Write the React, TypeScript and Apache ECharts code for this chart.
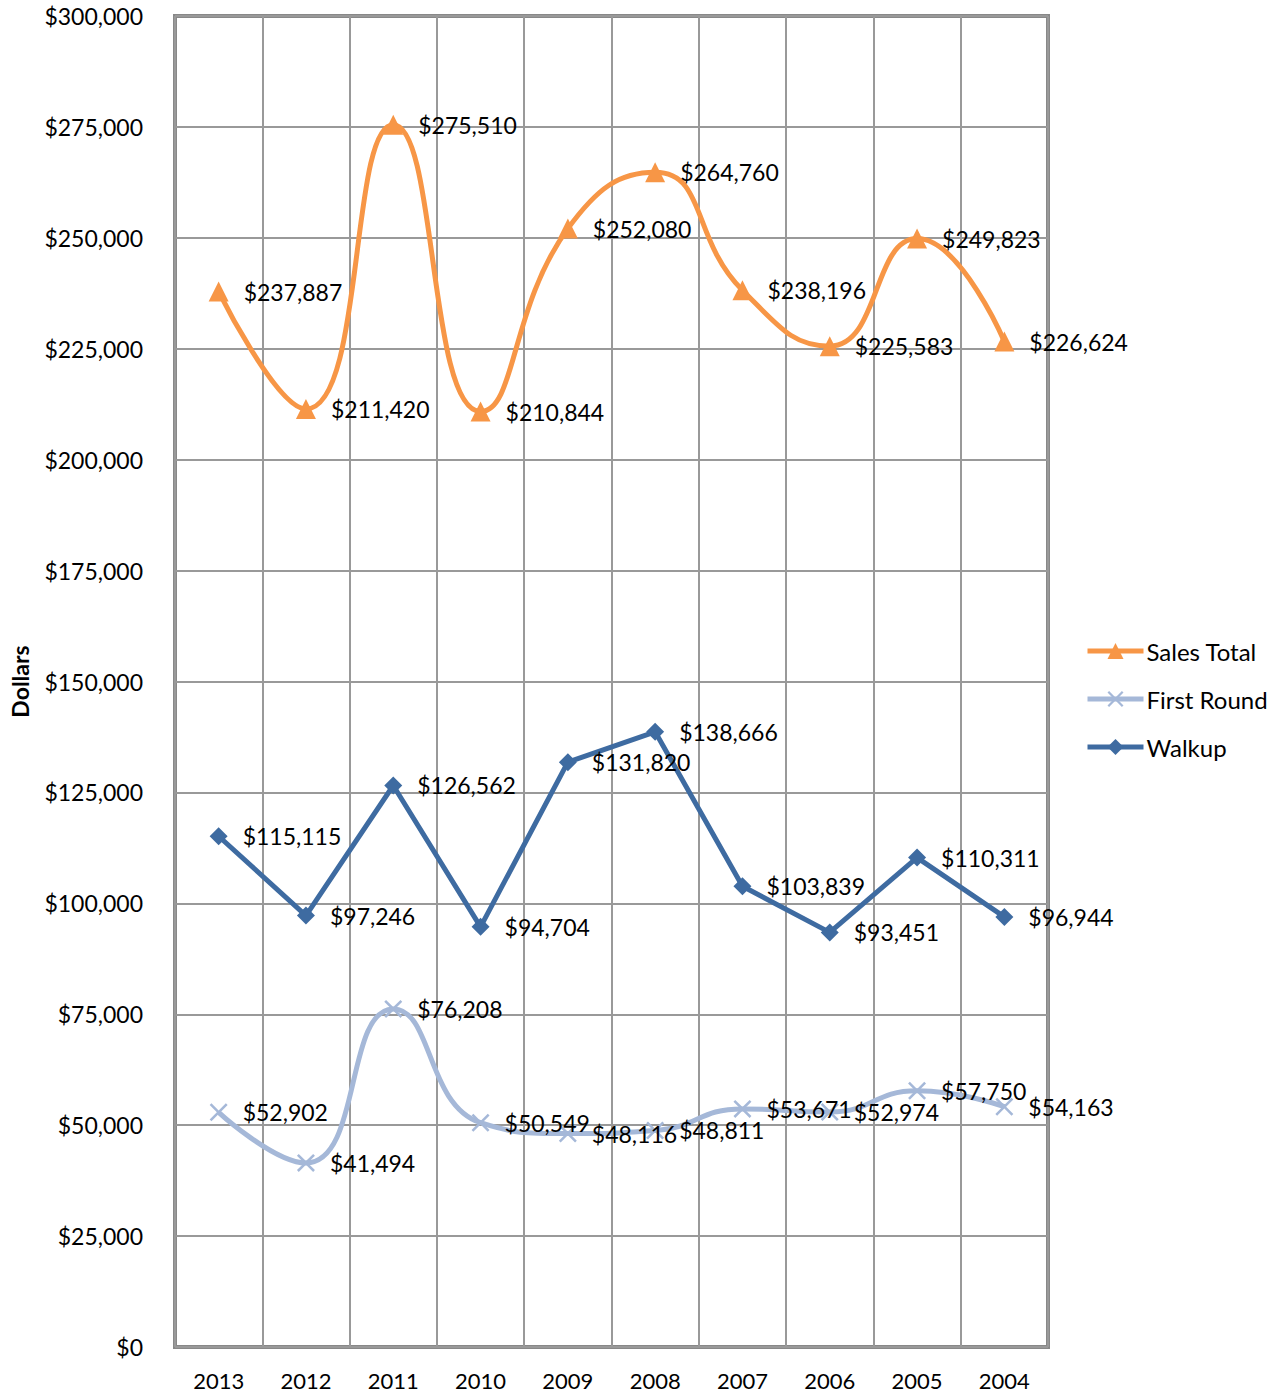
import React, { useEffect, useRef } from "react";
import * as echarts from "echarts";

const years = ["2013", "2012", "2011", "2010", "2009", "2008", "2007", "2006", "2005", "2004"];
const salesTotal = [237887, 211420, 275510, 210844, 252080, 264760, 238196, 225583, 249823, 226624];
const firstRound = [52902, 41494, 76208, 50549, 48116, 48811, 53671, 52974, 57750, 54163];
const walkup = [115115, 97246, 126562, 94704, 131820, 138666, 103839, 93451, 110311, 96944];

const FONT = "Lato, 'Liberation Sans', sans-serif";
const money = (v: number) => "$" + Math.round(v).toLocaleString("en-US");
const xSymbol = "path://M0,1L1,0L5,4L9,0L10,1L6,5L10,9L9,10L5,6L1,10L0,9L4,5Z";

export default function App() {
  const ref = useRef<HTMLDivElement>(null);
  useEffect(() => {
    if (!ref.current) return;
    const chart = echarts.init(ref.current, null, { renderer: "svg" });
    const label = {
      show: true,
      position: "right" as const,
      distance: 15,
      color: "#000",
      fontSize: 23,
      fontFamily: FONT,
      formatter: (p: any) => money(p.value),
    };
    chart.setOption({
      animation: false,
      backgroundColor: "#fff",
      textStyle: { fontFamily: FONT },
      grid: {
        left: 175,
        top: 16,
        width: 873,
        height: 1331,
        outerBoundsMode: "none",
        containLabel: false,
        show: true,
        borderColor: "#888",
        borderWidth: 4,
        backgroundColor: "transparent",
      },
      legend: {
        orient: "vertical",
        left: 1080,
        top: 634,
        itemWidth: 56,
        itemHeight: 20,
        itemGap: 24,
        lineStyle: { width: 5 },
        textStyle: { fontSize: 24, fontFamily: FONT, color: "#000", lineHeight: 24, padding: [0, 0, 0, -2] },
        data: ["Sales Total", "First Round", "Walkup"],
      },
      xAxis: {
        type: "category",
        data: years,
        boundaryGap: true,
        axisLine: { show: false },
        axisTick: { show: false },
        axisLabel: { fontSize: 22, fontFamily: FONT, color: "#000", margin: 22, interval: 0 },
        splitLine: { show: true, interval: 0, lineStyle: { color: "#999", width: 2 } },
      },
      yAxis: {
        type: "value",
        min: 0,
        max: 300000,
        interval: 25000,
        name: "Dollars",
        nameLocation: "middle",
        nameGap: 144,
        nameRotate: 90,
        nameTextStyle: { fontSize: 23, fontWeight: "bold", fontFamily: FONT, color: "#000" },
        axisLine: { show: false },
        axisTick: { show: false },
        axisLabel: { fontSize: 23, fontFamily: FONT, color: "#000", margin: 32, formatter: (v: number) => money(v) },
        splitLine: { show: true, lineStyle: { color: "#999", width: 2 } },
      },
      series: [
        {
          name: "Sales Total",
          type: "line",
          data: salesTotal,
          smooth: 0.5,
          symbol: "triangle",
          symbolSize: 20,
          lineStyle: { color: "#F79646", width: 5 },
          itemStyle: { color: "#F79646" },
          label,
          z: 3,
        },
        {
          name: "First Round",
          type: "line",
          data: firstRound,
          smooth: 0.5,
          symbol: xSymbol,
          symbolSize: 18,
          lineStyle: { color: "#A5B8D8", width: 5 },
          itemStyle: { color: "#A5B8D8" },
          label,
          z: 2,
        },
        {
          name: "Walkup",
          type: "line",
          data: walkup,
          smooth: false,
          symbol: "diamond",
          symbolSize: 18,
          lineStyle: { color: "#3E6BA1", width: 5 },
          itemStyle: { color: "#3E6BA1" },
          label,
          z: 2,
        },
      ],
    });
    return () => chart.dispose();
  }, []);
  return <div ref={ref} style={{ position: "absolute", left: 0, top: 0, width: 1277, height: 1397 }} />;
}
